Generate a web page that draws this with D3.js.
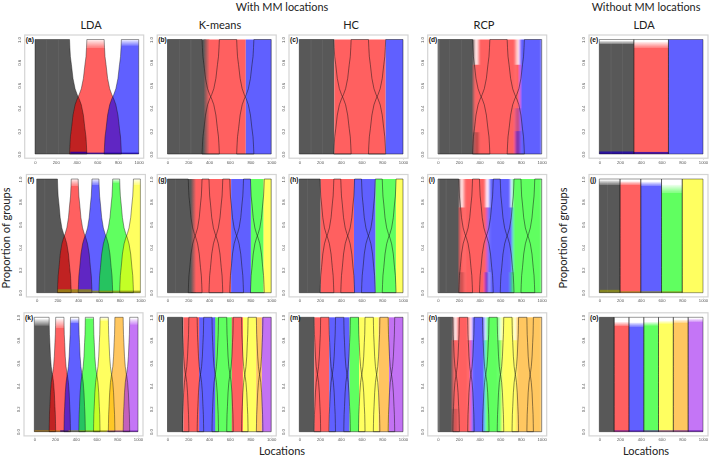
<!DOCTYPE html>
<html><head><meta charset="utf-8">
<script src="https://cdnjs.cloudflare.com/ajax/libs/d3/7.8.5/d3.min.js"></script>
<style>html,body{margin:0;padding:0;background:#fff}svg{display:block}</style>
</head><body><svg id="c" width="709" height="458"></svg>
<script>
// ---------- data ----------
const xTicks = [0,200,400,600,800,1000];
const yTicks = [0,0.2,0.4,0.6,0.8,1];
const panelLetters = ["a","b","c","d","e","f","g","h","i","j","k","l","m","n","o"];
const methodTitles = ["LDA","K-means","HC","RCP","LDA"];
// shape of a mixing transition: fraction along the transition, proportion of the outgoing group
const shapeU = [0,.02,.05,.11,.2,.32,.44,.5,.56,.68,.8,.89,.95,.98,1];
const shapeV = [1,.93,.85,.78,.66,.57,.52,.5,.48,.43,.34,.22,.15,.07,0];
// true transitions with MM locations
const trans3 = [[333,500],[667,833]];
const trans5 = [[200,333],[400,533],[600,733],[800,933]];
const trans7 = [[143,206],[286,349],[429,492],[571,634],[714,777],[857,920]];
// true breaks without MM locations
const steps3 = [[333,333],[667,667]];
const steps5 = [[200,200],[400,400],[600,600],[800,800]];
const steps7 = [[143,143],[286,286],[429,429],[571,571],[714,714],[857,857]];
// LDA solid top / pale top for each group
const topsA = [[1,1],[.93,1],[.95,1]];
const topsE = [[.96,.99],[.93,.98],[1,1]];
const topsF = [[1,1],[.94,1],[.95,1],[.97,1],[.95,1]];
const topsJ = [[.95,.99],[.95,.98],[.94,.975],[.88,.95],[1,1]];
const topsK = [[.93,.985],[.91,.985],[.95,.99],[.985,1],[.97,1],[1,1],[.94,.99]];
const topsO = [[1,1],[.925,.96],[.92,.955],[.93,.96],[.945,.97],[.95,.98],[.96,.99]];
// bottom noise strips: group, from, to, height
const stripsA = [[2,340,500,.02],[2,500,1000,.012]];
const stripsE = [[2,0,333,.022],[2,333,667,.018]];
const stripsF = [[4,200,530,.03],[4,530,1000,.018]];
const stripsJ = [[4,0,200,.025],[4,200,800,.012]];
const stripsK = [[5,0,330,.012],[2,250,330,.012],[4,330,700,.012],[6,700,1000,.01]];
const stripsO = [[6,143,1000,.012]];
// faint paler streaks in the grey group
const streaksA = [110,222];
const streaksF = [75];
const streaksK = [];
// hard classification: groups, breaks, half width of soft edges
const hardGroupsB = [0,1,2], hardBreaksB = [376,755], hardSoftB = [29,1];
const hardGroupsC = [0,1,2], hardBreaksC = [338,833], hardSoftC = [1,1];
const hardGroupsG = [0,1,2,3,4], hardBreaksG = [250,614,804,926], hardSoftG = [25,2,2,2];
const hardGroupsH = [0,1,2,3,4], hardBreaksH = [206,527,736,932], hardSoftH = [1,1,1,1];
const hardGroupsL = [0,1,2,3,1,4,5,6], hardBreaksL = [154,305,460,620,727,855,910], hardSoftL = [1,6,6,6,4,1,1];
const hardGroupsM = [0,1,2,3,4,5,6], hardBreaksM = [145,289,485,576,765,865], hardSoftM = [1,1,1,1,1,1];
// RCP patches: group, from, to, low, high, strength
const rcpD = [
 [0,0,350,0,1,1],
 [1,350,395,0,.78,1],[1,350,375,.78,1,.12],[1,375,395,.78,1,.35],
 [1,395,745,0,1,1],
 [1,745,790,0,.78,1],[1,745,770,.78,1,.4],[1,770,790,.78,1,.15],
 [0,350,395,0,.19,.35],
 [2,745,790,.2,.4,.35],[2,745,790,0,.2,.8],
 [2,790,1000,0,1,1]];
const rcpI = [
 [0,0,212,0,1,1],
 [1,212,254,0,.75,1],[1,212,233,.75,1,.1],[1,233,254,.75,1,.4],
 [1,254,453,0,1,1],
 [1,453,475,0,.75,1],[1,453,470,.75,1,.35],
 [0,212,250,0,.18,.25],
 [2,470,501,.18,.75,.9],[2,480,501,.75,1,.3],[2,453,495,0,.18,.9],
 [2,501,695,0,1,1],[2,695,720,0,.75,1],[2,695,720,.75,1,.2],
 [3,700,720,0,.18,.8],[3,720,1000,0,1,1]];
const rcpN = [
 [0,0,148,0,1,1],
 [1,148,190,0,.8,1],[1,148,190,.8,1,.2],[1,190,293,0,1,1],[1,293,318,0,.8,1],[1,293,318,.8,1,.35],
 [0,148,190,0,.2,.25],
 [2,318,331,0,.8,1],[2,331,444,0,1,1],[2,444,453,0,.8,1],[2,444,470,.8,1,.25],
 [3,453,470,0,.8,1],[3,470,582,0,1,1],[3,582,614,0,.8,1],[3,582,614,.8,1,.3],
 [4,614,620,0,.8,1],[4,620,727,0,1,1],[4,727,759,0,.8,1],[4,727,759,.8,1,.2],
 [5,759,1000,0,1,1]];

// ---------- styles & layout ----------
const baseColor = ["#000000","#ff0000","#0000ff","#00ff00","#ffff00","#ffa500","#a020f0"];
const baseAlpha = [.65,.62,.62,.62,.62,.62,.62];
const solidColor = ["#595959","#ff6161","#6161ff","#61ff61","#ffff61","#ffc461","#c272f3"];
const stripColor = ["#000000","#aa0000","#2000b0","#00aa00","#8e8e12","#b07a10","#5a10a0"];
const plotX = [[35,167.5,299.3,438,599.3],[36.7,167.5,299.3,438,599.3],[34.3,167.5,299.3,438,599.3]];
const plotTop = [39.5,179,317.3], plotBottom = [154,292.7,431.7], plotW = 103.7;
const titleX = [91,220,351,484,644];

const panels = [
 {kind:"lda",trans:trans3,tops:topsA,strips:stripsA,streaks:streaksA},
 {kind:"hard",trans:trans3,groups:hardGroupsB,breaks:hardBreaksB,soft:hardSoftB,streaks:streaksA},
 {kind:"hard",trans:trans3,groups:hardGroupsC,breaks:hardBreaksC,soft:hardSoftC,streaks:streaksA},
 {kind:"rcp",trans:trans3,patches:rcpD,streaks:streaksA},
 {kind:"lda",trans:steps3,tops:topsE,strips:stripsE,streaks:streaksA},
 {kind:"lda",trans:trans5,tops:topsF,strips:stripsF,streaks:streaksF},
 {kind:"hard",trans:trans5,groups:hardGroupsG,breaks:hardBreaksG,soft:hardSoftG,streaks:streaksF},
 {kind:"hard",trans:trans5,groups:hardGroupsH,breaks:hardBreaksH,soft:hardSoftH,streaks:streaksF},
 {kind:"rcp",trans:trans5,patches:rcpI,streaks:streaksF},
 {kind:"lda",trans:steps5,tops:topsJ,strips:stripsJ,streaks:streaksF},
 {kind:"lda",trans:trans7,tops:topsK,strips:stripsK,streaks:streaksK},
 {kind:"hard",trans:trans7,groups:hardGroupsL,breaks:hardBreaksL,soft:hardSoftL,streaks:streaksK},
 {kind:"hard",trans:trans7,groups:hardGroupsM,breaks:hardBreaksM,soft:hardSoftM,streaks:streaksK},
 {kind:"rcp",trans:trans7,patches:rcpN,streaks:streaksK},
 {kind:"lda",trans:steps7,tops:topsO,strips:stripsO,streaks:streaksK}
];

function curvePoints(t, g){
  const pts = [];
  if (g === 0) { pts.push([0,0]); pts.push([0,1]); }
  else {
    const [a,b] = t[g-1];
    shapeU.forEach((u,i)=>pts.push([a+u*(b-a),1-shapeV[i]]));
  }
  if (g === t.length) { pts.push([1000,1]); pts.push([1000,0]); }
  else {
    const [a,b] = t[g];
    shapeU.forEach((u,i)=>pts.push([a+u*(b-a),shapeV[i]]));
  }
  return pts;
}

const svg = d3.select("#c");
const defs = svg.append("defs");
function blurFilter(id,sd){
  defs.append("filter").attr("id",id).attr("x","-10%").attr("y","-10%").attr("width","120%").attr("height","120%")
    .append("feGaussianBlur").attr("stdDeviation",sd);
}
blurFilter("soft","0.35");
blurFilter("softer","0.8 0.5");
const fontTitle = "Lato, 'Open Sans', sans-serif";

panels.forEach((p,idx)=>{
  const row = Math.floor(idx/5), col = idx%5;
  const left = plotX[row][col], top = plotTop[row], bottom = plotBottom[row];
  const x = d3.scaleLinear().domain([0,1000]).range([left,left+plotW]);
  const y = d3.scaleLinear().domain([0,1]).range([bottom,top]);
  const G = svg.append("g").attr("filter","url(#soft)");

  // frame
  G.append("rect").attr("x",x(0)-10.3).attr("y",y(1)-4.5).attr("width",plotW+15.3).attr("height",bottom-top+8.7)
    .attr("fill","#fff").attr("stroke","#d4d4d4").attr("stroke-width",1.2);

  const clipId = "clip"+idx;
  defs.append("clipPath").attr("id",clipId).append("rect").attr("x",x(0)).attr("y",y(1)).attr("width",plotW).attr("height",y(0)-y(1));

  const nGroups = p.trans.length+1;
  const curves = d3.range(nGroups).map(g=>curvePoints(p.trans,g));

  if (p.kind==="lda"){
    curves.forEach((pts,g)=>{
      const [solid,pale] = p.tops[g];
      const area = d3.area().x(d=>x(d[0])).y0(y(0)).y1(d=>y(Math.min(d[1],solid)));
      G.append("path").attr("d",area(pts)).attr("fill",baseColor[g]).attr("fill-opacity",baseAlpha[g]);
      if (pale>solid){
        const id = "fade"+idx+"_"+g;
        const lg = defs.append("linearGradient").attr("id",id).attr("gradientUnits","userSpaceOnUse")
          .attr("x1",0).attr("x2",0).attr("y1",y(solid)).attr("y2",y(pale));
        lg.append("stop").attr("offset",0).attr("stop-color",baseColor[g]).attr("stop-opacity",baseAlpha[g]*.8);
        lg.append("stop").attr("offset",1).attr("stop-color",baseColor[g]).attr("stop-opacity",baseAlpha[g]*.08);
        const band = d3.area().x(d=>x(d[0])).y0(d=>y(Math.min(d[1],solid))).y1(d=>y(Math.min(d[1],pale)));
        G.append("path").attr("d",band(pts)).attr("fill",`url(#${id})`);
      }
    });
    p.strips.forEach(s=>{
      G.append("rect").attr("x",x(s[1])).attr("width",x(s[2])-x(s[1])).attr("y",y(s[3])).attr("height",y(0)-y(s[3]))
        .attr("fill",stripColor[s[0]]).attr("fill-opacity",.8);
    });
  } else if (p.kind==="hard"){
    const edges = [0,...p.breaks,1000];
    p.groups.forEach((g,i)=>{
      G.append("rect").attr("x",x(edges[i])).attr("width",x(edges[i+1])-x(edges[i])).attr("y",y(1)).attr("height",y(0)-y(1))
        .attr("fill",solidColor[g]);
    });
    p.breaks.forEach((b,i)=>{
      const s = p.soft[i];
      if (s<2) return;
      const id = "grad"+idx+"_"+i;
      const lg = defs.append("linearGradient").attr("id",id);
      lg.append("stop").attr("offset",0).attr("stop-color",solidColor[p.groups[i]]);
      lg.append("stop").attr("offset",1).attr("stop-color",solidColor[p.groups[i+1]]);
      G.append("rect").attr("x",x(b-s)).attr("width",x(b+s)-x(b-s)).attr("y",y(1)).attr("height",y(0)-y(1)).attr("fill",`url(#${id})`);
    });
  } else {
    const P = G.append("g").attr("clip-path",`url(#${clipId})`).append("g").attr("filter","url(#softer)");
    p.patches.forEach(q=>{
      // patches that touch the top or bottom run past the plot so the blur is cut off by the clip
      const hi = q[4]===1 ? 1.02 : q[4], lo = q[3]===0 ? -0.02 : q[3];
      P.append("rect").attr("x",x(q[1])).attr("width",x(q[2])-x(q[1])).attr("y",y(hi)).attr("height",y(lo)-y(hi))
        .attr("fill",baseColor[q[0]]).attr("fill-opacity",baseAlpha[q[0]]*q[5]);
    });
  }

  p.streaks.forEach(s=>{
    G.append("rect").attr("x",x(s)).attr("width",.7).attr("y",y(1)).attr("height",y(0)-y(1)).attr("fill","#fff").attr("fill-opacity",.07);
  });

  // true-proportion outlines
  const line = d3.line().x(d=>x(d[0])).y(d=>y(d[1]));
  curves.forEach(pts=>{
    G.append("path").attr("d",line(pts)+"Z").attr("fill","none").attr("stroke","#111").attr("stroke-opacity",p.kind==="lda"?.65:.75).attr("stroke-width",.65);
  });

  // axes
  const ax = G.append("g").attr("transform",`translate(0,${bottom+5})`)
    .call(d3.axisBottom(x).tickValues(xTicks).tickSize(1).tickPadding(.6).tickFormat(d3.format("d")));
  const ay = G.append("g").attr("transform",`translate(${left-14.5},0)`)
    .call(d3.axisLeft(y).tickValues(yTicks).tickSize(0).tickPadding(0).tickFormat(d3.format(".1f")));
  ay.selectAll("text").attr("transform","rotate(-90)").attr("text-anchor","middle").attr("x",0).attr("y",0).attr("dy",0);
  [ax,ay].forEach(a=>{
    a.attr("font-size",4.2).attr("font-family","'Liberation Sans',sans-serif");
    a.selectAll("text").attr("fill","#555");
    a.selectAll("line").attr("stroke","#bbb").attr("stroke-width",.4);
    a.select(".domain").remove();
  });

  // panel letter
  svg.append("text").attr("x",left-9.2).attr("y",top+2.6)
    .attr("font-family","'Liberation Sans',sans-serif").attr("font-weight","bold").attr("font-size",6.6).attr("fill","#111")
    .text(`(${panelLetters[idx]})`);

  if (row===0){
    svg.append("text").attr("x",titleX[col]).attr("y",29).attr("text-anchor","middle")
      .attr("font-family",fontTitle).attr("font-size",11).attr("fill","#222").text(methodTitles[col]);
  }
});

function label(t,xp,yp,rot,size){
  svg.append("text").attr("transform",`translate(${xp},${yp})`+(rot?" rotate(-90)":"")).attr("text-anchor","middle")
    .attr("font-family",fontTitle).attr("font-size",size).attr("fill","#222").text(t);
}
label("With MM locations",282,11,false,10.9);
label("Without MM locations",646,11,false,10.9);
label("Proportion of groups",10,238,true,11.1);
label("Proportion of groups",566.5,238,true,11.1);
label("Locations",282,454.5,false,11);
label("Locations",646,454.5,false,11);
</script></body></html>
